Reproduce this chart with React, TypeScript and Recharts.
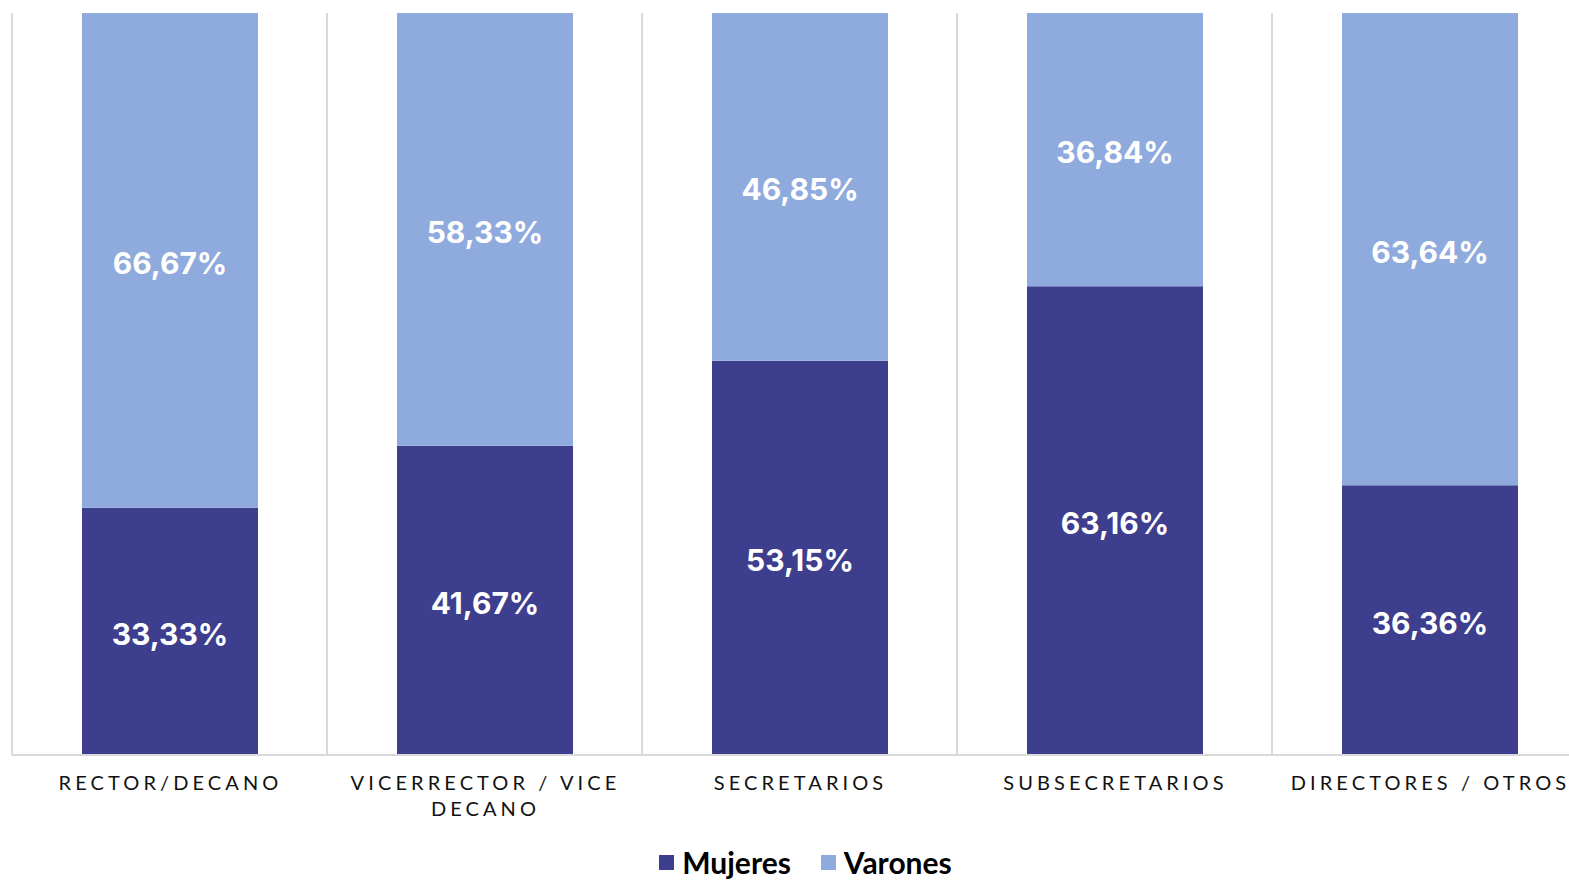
import React from 'react';
import {
  BarChart,
  Bar,
  XAxis,
  YAxis,
  CartesianGrid,
  Legend,
  LabelList,
} from 'recharts';

const categories = [
  'RECTOR/DECANO',
  'VICERRECTOR / VICE DECANO',
  'SECRETARIOS',
  'SUBSECRETARIOS',
  'DIRECTORES / OTROS',
];
const mujeres = [33.33, 41.67, 53.15, 63.16, 36.36];
const varones = [66.67, 58.33, 46.85, 36.84, 63.64];

const DARK = '#3E3E8E';
const LIGHT = '#8FABDD';

const data = categories.map((name, i) => ({
  name,
  Mujeres: mujeres[i],
  Varones: varones[i],
}));

const fmt = (v: any) => `${Number(v).toFixed(2).replace('.', ',')}%`;

// break long labels onto two lines, like the original
const splitLabel = (s: string) => {
  if (s.length <= 20) return [s];
  const cut = s.lastIndexOf(' ', 19);
  return [s.slice(0, cut), s.slice(cut + 1)];
};

const CategoryTick = (props: any) => {
  const { x, y, payload } = props;
  const lines = splitLabel(payload.value);
  return (
    <text
      x={x}
      y={y}
      textAnchor="middle"
      fill="#111"
      fontFamily="Lato, sans-serif"
      fontSize={20}
      letterSpacing={4.1}
    >
      {lines.map((l, i) => (
        <tspan key={i} x={x + 1} dy={i === 0 ? 35 : 26}>
          {l}
        </tspan>
      ))}
    </text>
  );
};

const LegendContent = () => (
  <div
    style={{
      height: 40,
      display: 'flex',
      justifyContent: 'center',
      alignItems: 'center',
      position: 'relative',
      top: 9,
      left: 6,
      fontFamily: 'Lato, sans-serif',
      fontWeight: 700,
      fontSize: 30,
      color: '#000',
    }}
  >
    {[
      ['Mujeres', DARK],
      ['Varones', LIGHT],
    ].map(([label, color]) => (
      <span key={label} style={{ display: 'flex', alignItems: 'center', margin: '0 15px' }}>
        <span style={{ width: 15, height: 15, background: color, marginRight: 8, display: 'inline-block' }} />
        {label}
      </span>
    ))}
  </div>
);

const gridLines = ({ offset }: any) => {
  const step = offset.width / categories.length;
  return categories.map((_, i) => offset.left + i * step).concat([offset.left + offset.width]);
};

const labelProps = {
  position: 'center' as const,
  formatter: fmt,
  fill: '#fff',
  fontFamily: 'Inter, sans-serif',
  fontWeight: 700,
  fontSize: 30,
  dy: 3,
};

export default function App() {
  return (
    <div style={{ position: 'fixed', inset: 0, overflow: 'hidden', background: '#fff' }}>
      <div style={{ position: 'absolute', left: 8, top: 8 }}>
        <BarChart
          width={1600}
          height={873}
          data={data}
          margin={{ top: 5, right: 21, left: 4, bottom: 8 }}
        >
          <CartesianGrid
            horizontal={false}
            stroke="#d9d9d9"
            strokeWidth={2}
            verticalCoordinatesGenerator={gridLines}
          />
          <XAxis
            dataKey="name"
            interval={0}
            height={78}
            tickLine={false}
            tickSize={0}
            tickMargin={0}
            axisLine={{ stroke: '#d9d9d9', strokeWidth: 2 }}
            tick={<CategoryTick />}
          />
          <YAxis hide domain={[0, 100]} />
          <Legend content={<LegendContent />} verticalAlign="bottom" />
          <Bar dataKey="Mujeres" stackId="a" fill={DARK} barSize={176} isAnimationActive={false}>
            <LabelList dataKey="Mujeres" {...labelProps} />
          </Bar>
          <Bar dataKey="Varones" stackId="a" fill={LIGHT} barSize={176} isAnimationActive={false}>
            <LabelList dataKey="Varones" {...labelProps} />
          </Bar>
        </BarChart>
      </div>
    </div>
  );
}
